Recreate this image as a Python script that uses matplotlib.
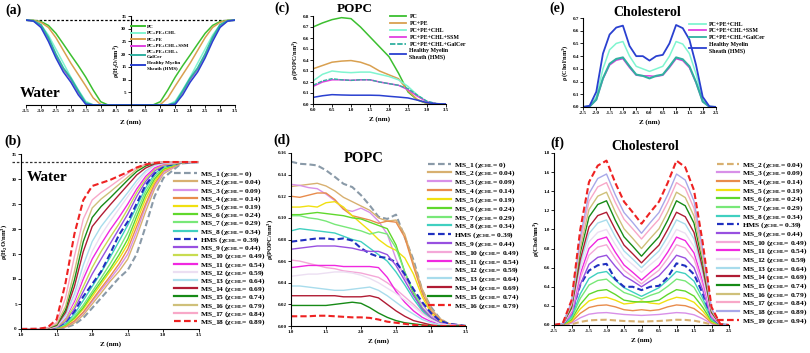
import numpy as np
import matplotlib.pyplot as plt

plt.rcParams['font.family'] = ['Liberation Serif', 'DejaVu Serif']
plt.rcParams['font.weight'] = 'bold'
plt.rcParams['axes.labelweight'] = 'bold'
plt.rcParams['mathtext.fontset'] = 'custom'
plt.rcParams['mathtext.rm'] = 'Liberation Serif:bold'
plt.rcParams['mathtext.bf'] = 'Liberation Serif:bold'
plt.rcParams['mathtext.it'] = 'Liberation Serif:bold:italic'
plt.rcParams['mathtext.default'] = 'bf'

# ---------------- (a) water, pure systems ----------------
za = [-3.5, -3.25, -3.0, -2.75, -2.5, -2.25, -2.0, -1.75, -1.5, -1.25, -1.0, -0.75, -0.5, -0.25,
      0.0, 0.25, 0.5, 0.75, 1.0, 1.25, 1.5, 1.75, 2.0, 2.25, 2.5, 2.75, 3.0, 3.25, 3.5]
a_pc = [33.4, 33.3, 32.8, 31.3, 28.2, 24.0, 19.7, 15.5, 11.0, 5.9, 1.3, 0, 0, 0,
        0, 0, 0, 0, 1.3, 5.9, 11.0, 15.5, 19.7, 24.0, 28.2, 31.3, 32.8, 33.3, 33.4]
a_pcpe = [33.4, 33.3, 32.5, 30.5, 26.5, 21.5, 16.5, 12.0, 7.5, 2.8, 0.2, 0, 0, 0,
          0, 0, 0, 0, 0.2, 2.8, 7.5, 12.0, 16.5, 21.5, 26.5, 30.5, 32.5, 33.3, 33.4]
a_chl = [33.4, 33.2, 31.5, 27.5, 22.0, 16.5, 11.0, 6.0, 1.5, 0, 0, 0, 0, 0,
         0, 0, 0, 0, 0, 0, 1.5, 6.0, 11.0, 16.5, 22.0, 27.5, 31.5, 33.2, 33.4]
a_ssm = [33.4, 33.0, 31.0, 26.0, 19.5, 14.0, 10.0, 5.0, 0.5, 0, 0, 0, 0, 0,
         0, 0, 0, 0, 0, 0, 0.5, 5.0, 10.0, 14.0, 19.5, 26.0, 31.0, 33.0, 33.4]
a_galcer = [33.4, 33.1, 31.5, 26.5, 20.0, 14.5, 10.5, 5.5, 0.8, 0, 0, 0, 0, 0,
            0, 0, 0, 0, 0, 0, 0.8, 5.5, 10.5, 14.5, 20.0, 26.5, 31.5, 33.1, 33.4]
a_hms = [33.4, 33.0, 30.5, 25.0, 18.5, 13.0, 9.0, 4.0, 0.3, 0, 0, 0, 0, 0,
         0, 0, 0, 0, 0, 0, 0.3, 4.0, 9.0, 13.0, 18.5, 25.0, 30.5, 33.0, 33.4]
bulk_water = 33.4

# ---------------- (b) water, myelin sheath series ----------------
zb = [1.0, 1.25, 1.375, 1.5, 1.625, 1.75, 1.875, 2.0, 2.125, 2.25, 2.375, 2.5, 2.625, 2.75, 2.875, 3.0, 3.25, 3.5]
b_ms1 = [0, 0, 0, 0, 0.3, 0.9, 2.2, 4.2, 6.2, 8.2, 10.2, 11.8, 15.0, 20.5, 26.5, 30.2, 33.1, 33.4]
b_ms2 = [0, 0, 0.02, 0.1, 0.4, 1.2, 2.8, 5.0, 7.2, 9.5, 11.5, 14.0, 18.5, 23.5, 28.0, 31.0, 33.2, 33.4]
b_ms3 = [0, 0, 0.03, 0.15, 0.5, 1.5, 3.2, 5.5, 7.8, 10.0, 12.3, 15.0, 19.5, 24.5, 28.5, 31.3, 33.2, 33.4]
b_ms4 = [0, 0, 0.03, 0.15, 0.5, 1.6, 3.4, 5.8, 8.2, 10.5, 13.0, 16.0, 20.5, 25.0, 29.0, 31.6, 33.2, 33.4]
b_ms5 = [0, 0, 0.05, 0.2, 0.7, 2.0, 4.0, 6.5, 9.0, 11.5, 14.0, 17.0, 21.5, 26.0, 29.5, 31.8, 33.3, 33.4]
b_ms6 = [0, 0, 0.05, 0.2, 0.8, 2.2, 4.3, 7.0, 9.5, 12.0, 14.8, 18.0, 22.5, 26.8, 30.0, 32.0, 33.3, 33.4]
b_ms7 = [0, 0, 0.05, 0.25, 0.9, 2.5, 4.8, 7.5, 10.2, 13.0, 16.0, 19.3, 23.5, 27.5, 30.5, 32.2, 33.3, 33.4]
b_ms8 = [0, 0, 0.06, 0.3, 1.1, 3.0, 5.7, 8.5, 11.3, 14.3, 17.5, 20.8, 24.5, 28.2, 31.0, 32.5, 33.3, 33.4]
b_hms = [0, 0, 0.06, 0.3, 1.4, 3.5, 6.5, 9.0, 11.5, 15.0, 18.8, 21.5, 25.1, 28.8, 31.1, 32.5, 33.3, 33.4]
b_ms9 = [0, 0, 0.07, 0.3, 1.5, 4.0, 7.5, 11.0, 14.0, 17.0, 20.0, 23.0, 26.5, 29.5, 31.6, 32.7, 33.3, 33.4]
b_ms10 = [0, 0, 0.08, 0.4, 1.8, 4.6, 8.5, 12.3, 15.5, 18.3, 21.0, 24.0, 27.3, 30.0, 31.9, 32.8, 33.3, 33.4]
b_ms11 = [0, 0, 0.1, 0.5, 2.2, 5.5, 10.0, 14.0, 17.0, 19.8, 22.3, 25.0, 28.0, 30.5, 32.2, 33.0, 33.4, 33.4]
b_ms12 = [0, 0, 0.1, 0.5, 2.4, 6.0, 11.0, 15.5, 18.8, 21.5, 24.0, 26.5, 29.0, 31.2, 32.6, 33.1, 33.4, 33.4]
b_ms13 = [0, 0.02, 0.12, 0.6, 2.8, 7.0, 12.8, 17.5, 20.5, 22.8, 25.0, 27.3, 29.7, 31.6, 32.8, 33.2, 33.4, 33.4]
b_ms14 = [0, 0.02, 0.15, 0.7, 3.3, 8.5, 15.5, 20.5, 22.7, 24.8, 26.8, 28.8, 30.8, 32.2, 33.0, 33.3, 33.4, 33.4]
b_ms15 = [0, 0.03, 0.18, 0.8, 3.8, 9.8, 17.5, 22.3, 24.5, 26.2, 28.0, 29.8, 31.5, 32.6, 33.2, 33.4, 33.4, 33.4]
b_ms16 = [0, 0.03, 0.2, 1.0, 4.5, 11.5, 19.5, 24.2, 26.0, 27.4, 28.9, 30.4, 31.9, 32.9, 33.3, 33.4, 33.4, 33.4]
b_ms17 = [0, 0.04, 0.25, 1.3, 6.2, 14.5, 22.0, 25.8, 27.3, 28.5, 29.8, 31.1, 32.3, 33.0, 33.3, 33.4, 33.4, 33.4]
b_ms18 = [0, 0.05, 0.35, 1.9, 9.2, 19.0, 25.8, 28.6, 29.2, 29.8, 30.6, 31.4, 32.3, 32.9, 33.2, 33.4, 33.4, 33.4]

# ---------------- (c) POPC, pure systems ----------------
zc = [0.0, 0.25, 0.5, 0.75, 1.0, 1.25, 1.5, 1.75, 2.0, 2.25, 2.5, 2.75, 3.0, 3.25, 3.5]
c_pc = [0.70, 0.737, 0.767, 0.785, 0.776, 0.70, 0.61, 0.52, 0.43, 0.28, 0.11, 0.036, 0.005, 0, 0]
c_pcpe = [0.32, 0.35, 0.38, 0.39, 0.395, 0.38, 0.35, 0.30, 0.265, 0.23, 0.12, 0.04, 0.005, 0, 0]
c_chl = [0.21, 0.27, 0.30, 0.29, 0.285, 0.29, 0.29, 0.27, 0.25, 0.22, 0.16, 0.08, 0.02, 0.003, 0]
c_ssm = [0.16, 0.20, 0.22, 0.22, 0.215, 0.22, 0.22, 0.20, 0.185, 0.17, 0.13, 0.07, 0.02, 0.003, 0]
c_galcer = [0.17, 0.21, 0.23, 0.22, 0.215, 0.22, 0.22, 0.20, 0.185, 0.17, 0.14, 0.08, 0.025, 0.004, 0]
c_hms = [0.06, 0.075, 0.085, 0.082, 0.08, 0.08, 0.08, 0.078, 0.07, 0.063, 0.055, 0.035, 0.012, 0.002, 0]

# ---------------- (d) POPC, myelin sheath series ----------------
zd = [1.0, 1.125, 1.25, 1.375, 1.5, 1.625, 1.75, 1.875, 2.0, 2.125, 2.25, 2.375, 2.5, 2.625, 2.75,
      2.875, 3.0, 3.125, 3.25, 3.5]
d_ms1 = [0.152, 0.150, 0.1495, 0.1485, 0.144, 0.138, 0.1315, 0.1285, 0.121, 0.1115, 0.101, 0.099, 0.103,
         0.082, 0.061, 0.033, 0.0175, 0.007, 0.002, 0]
d_ms2 = [0.129, 0.130, 0.131, 0.132, 0.1295, 0.125, 0.119, 0.115, 0.111, 0.107, 0.100, 0.097, 0.098,
         0.085, 0.058, 0.034, 0.016, 0.007, 0.002, 0]
d_ms3 = [0.131, 0.130, 0.128, 0.127, 0.122, 0.116, 0.108, 0.106, 0.109, 0.105, 0.097, 0.085, 0.062,
         0.045, 0.032, 0.020, 0.010, 0.004, 0.001, 0]
d_ms4 = [0.120, 0.119, 0.121, 0.123, 0.123, 0.117, 0.108, 0.102, 0.100, 0.098, 0.095, 0.097, 0.096,
         0.082, 0.055, 0.030, 0.014, 0.006, 0.002, 0]
d_ms5 = [0.110, 0.110, 0.111, 0.110, 0.114, 0.115, 0.110, 0.102, 0.095, 0.088, 0.080, 0.074, 0.070,
         0.063, 0.048, 0.027, 0.012, 0.005, 0.001, 0]
d_ms6 = [0.103, 0.103, 0.104, 0.105, 0.104, 0.103, 0.102, 0.100, 0.099, 0.096, 0.093, 0.090, 0.075,
         0.050, 0.030, 0.015, 0.007, 0.003, 0.001, 0]
d_ms7 = [0.102, 0.102, 0.100, 0.099, 0.097, 0.094, 0.092, 0.090, 0.088, 0.085, 0.087, 0.085, 0.072,
         0.050, 0.032, 0.017, 0.008, 0.003, 0.001, 0]
d_ms8 = [0.088, 0.090, 0.089, 0.088, 0.087, 0.086, 0.083, 0.080, 0.078, 0.072, 0.066, 0.060, 0.050,
         0.038, 0.025, 0.014, 0.006, 0.002, 0.001, 0]
d_hms = [0.078, 0.079, 0.080, 0.081, 0.081, 0.080, 0.081, 0.079, 0.072, 0.067, 0.064, 0.063, 0.059,
         0.048, 0.034, 0.022, 0.012, 0.005, 0.002, 0]
d_ms9 = [0.071, 0.072, 0.073, 0.074, 0.074, 0.074, 0.073, 0.072, 0.070, 0.069, 0.069, 0.066, 0.056,
         0.042, 0.028, 0.016, 0.008, 0.003, 0.001, 0]
d_ms10 = [0.061, 0.060, 0.058, 0.056, 0.054, 0.053, 0.051, 0.050, 0.049, 0.047, 0.045, 0.040, 0.034,
          0.027, 0.020, 0.012, 0.006, 0.002, 0.001, 0]
d_ms11 = [0.054, 0.055, 0.056, 0.056, 0.056, 0.056, 0.055, 0.055, 0.055, 0.055, 0.054, 0.045, 0.032,
          0.022, 0.014, 0.008, 0.004, 0.002, 0.001, 0]
d_ms12 = [0.046, 0.047, 0.048, 0.048, 0.049, 0.050, 0.050, 0.049, 0.047, 0.044, 0.040, 0.035, 0.030,
          0.024, 0.018, 0.011, 0.006, 0.002, 0.001, 0]
d_ms13 = [0.037, 0.037, 0.036, 0.035, 0.034, 0.033, 0.033, 0.034, 0.035, 0.036, 0.033, 0.028, 0.022,
          0.016, 0.011, 0.006, 0.003, 0.001, 0, 0]
d_ms14 = [0.028, 0.028, 0.028, 0.028, 0.028, 0.028, 0.027, 0.027, 0.027, 0.028, 0.026, 0.020, 0.014,
          0.009, 0.005, 0.003, 0.001, 0, 0, 0]
d_ms15 = [0.019, 0.019, 0.019, 0.019, 0.019, 0.020, 0.021, 0.022, 0.021, 0.017, 0.012, 0.008, 0.005,
          0.003, 0.002, 0.001, 0, 0, 0, 0]
d_ms16 = [0.009, 0.009, 0.009, 0.0095, 0.0095, 0.009, 0.0085, 0.008, 0.008, 0.0075, 0.006, 0.004, 0.003,
          0.002, 0.001, 0.0005, 0, 0, 0, 0]

# ---------------- (e) cholesterol, pure systems ----------------
ze = [-2.5, -2.25, -2.0, -1.75, -1.5, -1.25, -1.0, -0.75, -0.5, -0.25, 0.0,
      0.25, 0.5, 0.75, 1.0, 1.25, 1.5, 1.75, 2.0, 2.25, 2.5]
e_chl = [0, 0.005, 0.08, 0.30, 0.45, 0.50, 0.515, 0.40, 0.32, 0.30, 0.28,
         0.30, 0.32, 0.40, 0.515, 0.495, 0.42, 0.26, 0.06, 0.003, 0]
e_ssm = [0, 0.004, 0.057, 0.22, 0.33, 0.368, 0.38, 0.31, 0.25, 0.245, 0.245,
         0.24, 0.25, 0.31, 0.38, 0.365, 0.31, 0.19, 0.042, 0.002, 0]
e_galcer = [0, 0.004, 0.058, 0.226, 0.34, 0.378, 0.39, 0.32, 0.255, 0.245, 0.225,
            0.245, 0.255, 0.32, 0.39, 0.375, 0.32, 0.195, 0.043, 0.002, 0]
e_hms = [0, 0.01, 0.12, 0.42, 0.57, 0.625, 0.64, 0.48, 0.40, 0.40, 0.365,
         0.40, 0.41, 0.50, 0.645, 0.62, 0.53, 0.33, 0.08, 0.005, 0]

# ---------------- (f) cholesterol, myelin sheath series ----------------
f_ms2 = [0, 0.001, 0.008, 0.032, 0.048, 0.053, 0.055, 0.048, 0.042, 0.039, 0.035,
         0.039, 0.042, 0.048, 0.055, 0.053, 0.045, 0.028, 0.006, 0, 0]
f_ms3 = [0, 0.001, 0.02, 0.075, 0.113, 0.126, 0.13, 0.12, 0.11, 0.105, 0.10,
         0.105, 0.11, 0.12, 0.13, 0.125, 0.107, 0.065, 0.014, 0.001, 0]
f_ms4 = [0, 0.002, 0.032, 0.122, 0.183, 0.204, 0.21, 0.19, 0.16, 0.15, 0.16,
         0.15, 0.16, 0.19, 0.21, 0.202, 0.172, 0.105, 0.023, 0.001, 0]
f_ms5 = [0, 0.003, 0.044, 0.168, 0.252, 0.281, 0.29, 0.26, 0.22, 0.23, 0.25,
         0.23, 0.22, 0.26, 0.29, 0.278, 0.238, 0.145, 0.032, 0.001, 0]
f_ms6 = [0, 0.004, 0.056, 0.215, 0.322, 0.359, 0.37, 0.32, 0.26, 0.245, 0.24,
         0.245, 0.26, 0.32, 0.37, 0.355, 0.303, 0.185, 0.041, 0.002, 0]
f_ms7 = [0, 0.005, 0.072, 0.278, 0.418, 0.466, 0.48, 0.405, 0.34, 0.31, 0.27,
         0.31, 0.34, 0.405, 0.48, 0.461, 0.394, 0.24, 0.053, 0.002, 0]
f_ms8 = [0, 0.006, 0.084, 0.325, 0.487, 0.543, 0.56, 0.47, 0.39, 0.345, 0.30,
         0.345, 0.39, 0.47, 0.56, 0.538, 0.459, 0.28, 0.062, 0.003, 0]
f_hms = [0, 0.01, 0.12, 0.42, 0.57, 0.625, 0.64, 0.48, 0.40, 0.40, 0.365,
         0.40, 0.41, 0.50, 0.645, 0.62, 0.53, 0.33, 0.08, 0.005, 0]
f_ms9 = [0, 0.007, 0.11, 0.423, 0.635, 0.708, 0.73, 0.615, 0.515, 0.46, 0.40,
         0.46, 0.515, 0.615, 0.73, 0.70, 0.60, 0.365, 0.08, 0.004, 0]
f_ms10 = [0, 0.008, 0.126, 0.487, 0.731, 0.815, 0.84, 0.697, 0.574, 0.504, 0.43,
          0.504, 0.574, 0.697, 0.84, 0.806, 0.689, 0.42, 0.092, 0.004, 0]
f_ms11 = [0, 0.009, 0.138, 0.534, 0.80, 0.892, 0.92, 0.763, 0.628, 0.551, 0.47,
          0.551, 0.628, 0.763, 0.92, 0.883, 0.754, 0.46, 0.101, 0.005, 0]
f_ms12 = [0, 0.01, 0.15, 0.58, 0.87, 0.97, 1.0, 0.843, 0.708, 0.631, 0.55,
          0.631, 0.708, 0.843, 1.0, 0.96, 0.82, 0.5, 0.11, 0.005, 0]
f_ms13 = [0, 0.011, 0.165, 0.638, 0.957, 1.067, 1.10, 0.925, 0.775, 0.69, 0.60,
          0.69, 0.775, 0.925, 1.10, 1.056, 0.902, 0.55, 0.121, 0.006, 0]
f_ms14 = [0, 0.012, 0.177, 0.684, 1.027, 1.145, 1.18, 1.0, 0.836, 0.745, 0.65,
          0.745, 0.836, 1.0, 1.18, 1.133, 0.968, 0.59, 0.13, 0.006, 0]
f_ms15 = [0, 0.013, 0.195, 0.754, 1.131, 1.261, 1.30, 1.097, 0.923, 0.824, 0.72,
          0.824, 0.923, 1.097, 1.30, 1.248, 1.066, 0.65, 0.143, 0.007, 0]
f_ms16 = [0, 0.014, 0.209, 0.806, 1.209, 1.348, 1.39, 1.184, 1.007, 0.906, 0.80,
          0.906, 1.007, 1.184, 1.39, 1.334, 1.14, 0.695, 0.153, 0.007, 0]
f_ms17 = [0, 0.015, 0.224, 0.864, 1.296, 1.445, 1.49, 1.284, 1.107, 1.006, 0.90,
          1.006, 1.107, 1.284, 1.49, 1.43, 1.222, 0.745, 0.164, 0.007, 0]
f_ms18 = [0, 0.016, 0.237, 0.916, 1.375, 1.533, 1.58, 1.363, 1.177, 1.072, 0.96,
          1.072, 1.177, 1.363, 1.58, 1.517, 1.296, 0.79, 0.174, 0.008, 0]
f_ms19 = [0, 0.017, 0.258, 0.998, 1.496, 1.668, 1.72, 1.489, 1.291, 1.179, 1.06,
          1.179, 1.291, 1.489, 1.72, 1.651, 1.41, 0.86, 0.189, 0.009, 0]

# legend names / cholesterol fractions (legend order)
ms_names = ['MS_1', 'MS_2', 'MS_3', 'MS_4', 'MS_5', 'MS_6', 'MS_7', 'MS_8', 'HMS', 'MS_9', 'MS_10',
            'MS_11', 'MS_12', 'MS_13', 'MS_14', 'MS_15', 'MS_16', 'MS_17', 'MS_18', 'MS_19']
ms_chi = ['0', '0.04', '0.09', '0.14', '0.19', '0.24', '0.29', '0.34', '0.39', '0.44', '0.49',
          '0.54', '0.59', '0.64', '0.69', '0.74', '0.79', '0.84', '0.89', '0.94']

# colours
GRAY, TAN, VIOLET, ORANGE, YELLOW = '#8a9aa8', '#d8b070', '#d890e8', '#e88c4c', '#f0e010'
GREEN, LGREEN, TURQ, BLUE, PURPLE = '#60d82c', '#78e878', '#40d0c0', '#2030c0', '#9850e0'
YGREEN, PINK, MAGENTA, LAV, LBLUE = '#c8dc50', '#f4a8d8', '#f028e0', '#ecdff2', '#a8dcec'
DRED, DGREEN, KHAKI, PINK2, RED, LAVB = '#b01c34', '#168a16', '#cfc07a', '#f8a8c8', '#ee2222', '#a8a8e8'

PC_C, PCPE_C, CHL_C, SSM_C, GAL_C, HMS_C = '#3cbf30', '#d9a050', '#80f5d0', '#e040e0', '#30b0a0', '#2a40d0'


def style(ax, fs=4):
    for s in ['top', 'right']:
        ax.spines[s].set_visible(False)
    for s in ['left', 'bottom']:
        ax.spines[s].set_linewidth(0.8)
    ax.tick_params(direction='out', length=2, width=0.6, labelsize=fs, pad=1)


def lab(name, chi):
    return name + ' (\u03c7$_{\\mathbf{CHL}}$= ' + chi + ')'


def thick_legend(leg, lw=1.6):
    for l in leg.get_lines():
        l.set_linewidth(lw)


fig = plt.figure(figsize=(8.1, 3.53), dpi=100)


def axes_px(x0, y0, x1, y1):
    return fig.add_axes([x0 / 810, 1 - y1 / 353, (x1 - x0) / 810, (y1 - y0) / 353])


# ---- (a)
ax = axes_px(26, 16, 235, 105)
style(ax, 3.6)
ax.spines['left'].set_position(('data', 0))
ax.axhline(bulk_water, color='k', ls=(0, (2, 1.5)), lw=0.9)
ax.plot(za, a_pc, color=PC_C, lw=1.1, label='PC')
ax.plot(za, a_chl, color=CHL_C, lw=1.1, label='PC+PE+CHL')
ax.plot(za, a_pcpe, color=PCPE_C, lw=1.1, label='PC+PE')
ax.plot(za, a_ssm, color=SSM_C, lw=1.1, label='PC+PE+CHL+SSM')
ax.plot(za, a_galcer, color=GAL_C, lw=1.4, label='PC+PE+CHL+\nGalCer')
ax.plot(za, a_hms, color=HMS_C, lw=1.1, label='Healthy Myelin\nSheath (HMS)')
ax.set_xlim(-3.5, 3.5)
ax.set_ylim(0, 35)
ax.set_xticks(np.arange(-3.5, 3.6, 0.5))
ax.set_xticklabels(['%.1f' % v for v in np.arange(-3.5, 3.6, 0.5)])
ax.set_yticks(np.arange(5, 36, 5))
ax.set_xlabel('Z (nm)', fontsize=5, labelpad=4)
ax.text(-0.5, 17.5, '\u03c1(H$_2$O/nm$^3$)', rotation=90, fontsize=4.5, ha='center', va='center')
ax.text(-3.72, 4.7, 'Water', fontsize=11, ha='left', va='center')
leg = ax.legend(loc='upper left', bbox_to_anchor=(0.5, 0.905), frameon=False, fontsize=3.6,
                handlelength=2.8, handletextpad=0.5, labelspacing=0.4, borderpad=0, borderaxespad=0)
thick_legend(leg, 1.4)

# ---- (b)
ax = axes_px(21, 154, 199, 329)
style(ax, 3.6)
b_series = [b_ms1, b_ms2, b_ms3, b_ms4, b_ms5, b_ms6, b_ms7, b_ms8, b_hms, b_ms9, b_ms10,
            b_ms11, b_ms12, b_ms13, b_ms14, b_ms15, b_ms16, b_ms17, b_ms18]
b_cols = [GRAY, TAN, VIOLET, ORANGE, YELLOW, GREEN, LGREEN, TURQ, BLUE, PURPLE, YGREEN,
          MAGENTA, LAV, LBLUE, DRED, DGREEN, KHAKI, PINK2, RED]
ax.plot([0.88, 3.5], [bulk_water, bulk_water], color='#333333', ls=(0, (2, 1.5)), lw=0.9, clip_on=False)
for i, ys in enumerate(b_series):
    dashed = ms_names[i] in ('MS_1', 'HMS', 'MS_18')
    ax.plot(zb, ys, color=b_cols[i], lw=1.5 if dashed else 1.0,
            ls=(0, (3, 1.5)) if dashed else '-', label=lab(ms_names[i], ms_chi[i]))
ax.set_xlim(1.0, 3.5)
ax.set_ylim(0, 35)
ax.set_xticks(np.arange(1.0, 3.6, 0.5))
ax.set_xticklabels(['%.1f' % v for v in np.arange(1.0, 3.6, 0.5)])
ax.set_yticks(np.arange(0, 36, 5))
ax.set_xlabel('Z (nm)', fontsize=5, labelpad=3)
ax.set_ylabel('\u03c1(H$_2$O/nm$^3$)', fontsize=4.8, labelpad=2)
ax.text(1.08, 30.4, 'Water', fontsize=11, ha='left', va='center')
leg = ax.legend(loc='upper left', bbox_to_anchor=(0.86, 0.912), frameon=False, fontsize=5.4,
                handlelength=3.0, handletextpad=0.4, labelspacing=-0.2, borderpad=0, borderaxespad=0)
thick_legend(leg, 1.6)

# ---- (c)
ax = axes_px(313, 16, 446, 104)
style(ax, 3.6)
ax.plot(zc, c_pc, color=PC_C, lw=1.1, label='PC')
ax.plot(zc, c_pcpe, color=PCPE_C, lw=1.1, label='PC+PE')
ax.plot(zc, c_chl, color=CHL_C, lw=1.1, label='PC+PE+CHL')
ax.plot(zc, c_ssm, color=SSM_C, lw=1.1, label='PC+PE+CHL+SSM')
ax.plot(zc, c_galcer, color=GAL_C, lw=1.0, ls=(0, (3, 1)), label='PC+PE+CHL+GalCer')
ax.plot(zc, c_hms, color=HMS_C, lw=1.1, label='Healthy Myelin\nSheath (HMS)')
ax.set_xlim(0, 3.5)
ax.set_ylim(0, 0.8)
ax.set_xticks(np.arange(0, 3.6, 0.5))
ax.set_xticklabels(['%.1f' % v for v in np.arange(0, 3.6, 0.5)])
ax.set_yticks(np.arange(0, 0.81, 0.1))
ax.set_yticklabels(['%.1f' % v for v in np.arange(0, 0.81, 0.1)])
ax.set_xlabel('Z (nm)', fontsize=5, labelpad=3)
ax.set_ylabel('\u03c1 (POPC/nm$^3$)', fontsize=4.5, labelpad=2)
leg = ax.legend(loc='upper left', bbox_to_anchor=(0.58, 1.02), frameon=False, fontsize=4.2,
                handlelength=2.8, handletextpad=0.5, labelspacing=0.3, borderpad=0, borderaxespad=0)
thick_legend(leg, 1.3)

# ---- (d)
ax = axes_px(291, 153, 466, 326)
style(ax, 3.6)
d_series = [d_ms1, d_ms2, d_ms3, d_ms4, d_ms5, d_ms6, d_ms7, d_ms8, d_hms, d_ms9, d_ms10,
            d_ms11, d_ms12, d_ms13, d_ms14, d_ms15, d_ms16]
d_cols = [GRAY, TAN, VIOLET, ORANGE, YELLOW, GREEN, LGREEN, TURQ, BLUE, PURPLE, PINK,
          MAGENTA, LAV, LBLUE, DRED, DGREEN, RED]
for i, ys in enumerate(d_series):
    dashed = i in (0, 8, 16)
    ax.plot(zd, ys, color=d_cols[i], lw=1.5 if dashed else 1.0,
            ls=(0, (3, 1.5)) if dashed else '-', label=lab(ms_names[i], ms_chi[i]))
ax.set_xlim(1.0, 3.5)
ax.set_ylim(0, 0.16)
ax.set_xticks(np.arange(1.0, 3.6, 0.5))
ax.set_xticklabels(['%.1f' % v for v in np.arange(1.0, 3.6, 0.5)])
ax.set_yticks(np.arange(0, 0.161, 0.02))
ax.set_yticklabels(['%.2f' % v for v in np.arange(0, 0.161, 0.02)])
ax.set_xlabel('Z (nm)', fontsize=5, labelpad=3)
ax.set_ylabel('\u03c1(POPC/nm$^3$)', fontsize=4.8, labelpad=2)
leg = ax.legend(loc='upper left', bbox_to_anchor=(0.785, 0.96), frameon=False, fontsize=5.4,
                handlelength=3.0, handletextpad=0.4, labelspacing=-0.12, borderpad=0, borderaxespad=0)
thick_legend(leg, 1.6)

# ---- (e)
ax = axes_px(583, 18, 716, 107)
style(ax, 3.6)
ax.plot(ze, e_chl, color=CHL_C, lw=1.1, label='PC+PE+CHL')
ax.plot(ze, e_ssm, color=SSM_C, lw=1.1, label='PC+PE+CHL+SSM')
ax.plot(ze, e_galcer, color=GAL_C, lw=1.5, label='PC+PE+CHL+GalCer')
ax.plot(ze, e_hms, color=HMS_C, lw=1.3, label='Healthy Myelin\nSheath (HMS)')
ax.set_xlim(-2.5, 2.5)
ax.set_ylim(0, 0.7)
ax.set_xticks(np.arange(-2.5, 2.6, 0.5))
ax.set_xticklabels(['%.1f' % v for v in np.arange(-2.5, 2.6, 0.5)])
ax.set_yticks(np.arange(0, 0.71, 0.1))
ax.set_yticklabels(['%.1f' % v for v in np.arange(0, 0.71, 0.1)])
ax.set_xlabel('Z (nm)', fontsize=5, labelpad=3)
ax.set_ylabel('\u03c1 (Chol/nm$^3$)', fontsize=4.5, labelpad=2)
leg = ax.legend(loc='upper left', bbox_to_anchor=(0.8, 0.96), frameon=False, fontsize=4.2,
                handlelength=2.8, handletextpad=0.5, labelspacing=0.3, borderpad=0, borderaxespad=0)
thick_legend(leg, 1.3)

# ---- (f)
ax = axes_px(554, 153, 729, 325)
style(ax, 3.6)
f_series = [f_ms2, f_ms3, f_ms4, f_ms5, f_ms6, f_ms7, f_ms8, f_hms, f_ms9, f_ms10, f_ms11,
            f_ms12, f_ms13, f_ms14, f_ms15, f_ms16, f_ms17, f_ms18, f_ms19]
f_cols = [TAN, VIOLET, ORANGE, YELLOW, GREEN, LGREEN, TURQ, BLUE, PURPLE, PINK, MAGENTA,
          LAV, LBLUE, DRED, DGREEN, KHAKI, PINK2, LAVB, RED]
for i, ys in enumerate(f_series):
    dashed = i in (0, 7, 18)
    ax.plot(ze, ys, color=f_cols[i], lw=1.5 if dashed else 1.0,
            ls=(0, (3, 1.5)) if dashed else '-', label=lab(ms_names[i + 1], ms_chi[i + 1]))
ax.set_xlim(-2.5, 2.5)
ax.set_ylim(0, 1.8)
ax.set_xticks(np.arange(-2.5, 2.6, 0.5))
ax.set_xticklabels(['%.1f' % v for v in np.arange(-2.5, 2.6, 0.5)])
ax.set_yticks(np.arange(0, 1.81, 0.2))
ax.set_yticklabels(['%.1f' % v for v in np.arange(0, 1.81, 0.2)])
ax.set_xlabel('Z (nm)', fontsize=5, labelpad=3)
ax.set_ylabel('\u03c1(Chol/nm$^3$)', fontsize=4.8, labelpad=2)
leg = ax.legend(loc='upper left', bbox_to_anchor=(0.93, 0.96), frameon=False, fontsize=5.4,
                handlelength=3.0, handletextpad=0.4, labelspacing=-0.14, borderpad=0, borderaxespad=0)
thick_legend(leg, 1.6)

# titles and panel letters
fig.text(355 / 810, 1 - 9 / 353, 'POPC', fontsize=9.5, ha='center', va='center')
fig.text(364 / 810, 1 - 158 / 353, 'POPC', fontsize=10.5, ha='center', va='center')
fig.text(647 / 810, 1 - 12 / 353, 'Cholesterol', fontsize=10, ha='center', va='center')
fig.text(645 / 810, 1 - 146 / 353, 'Cholesterol', fontsize=10, ha='center', va='center')
for letter, x, y in [('(a)', 13, 10), ('(b)', 13, 141), ('(c)', 282, 8), ('(d)', 282, 140),
                     ('(e)', 557, 8), ('(f)', 557, 143)]:
    fig.text(x / 810, 1 - y / 353, letter, fontsize=10, ha='center', va='center')

fig.savefig('out.png', dpi=100)
